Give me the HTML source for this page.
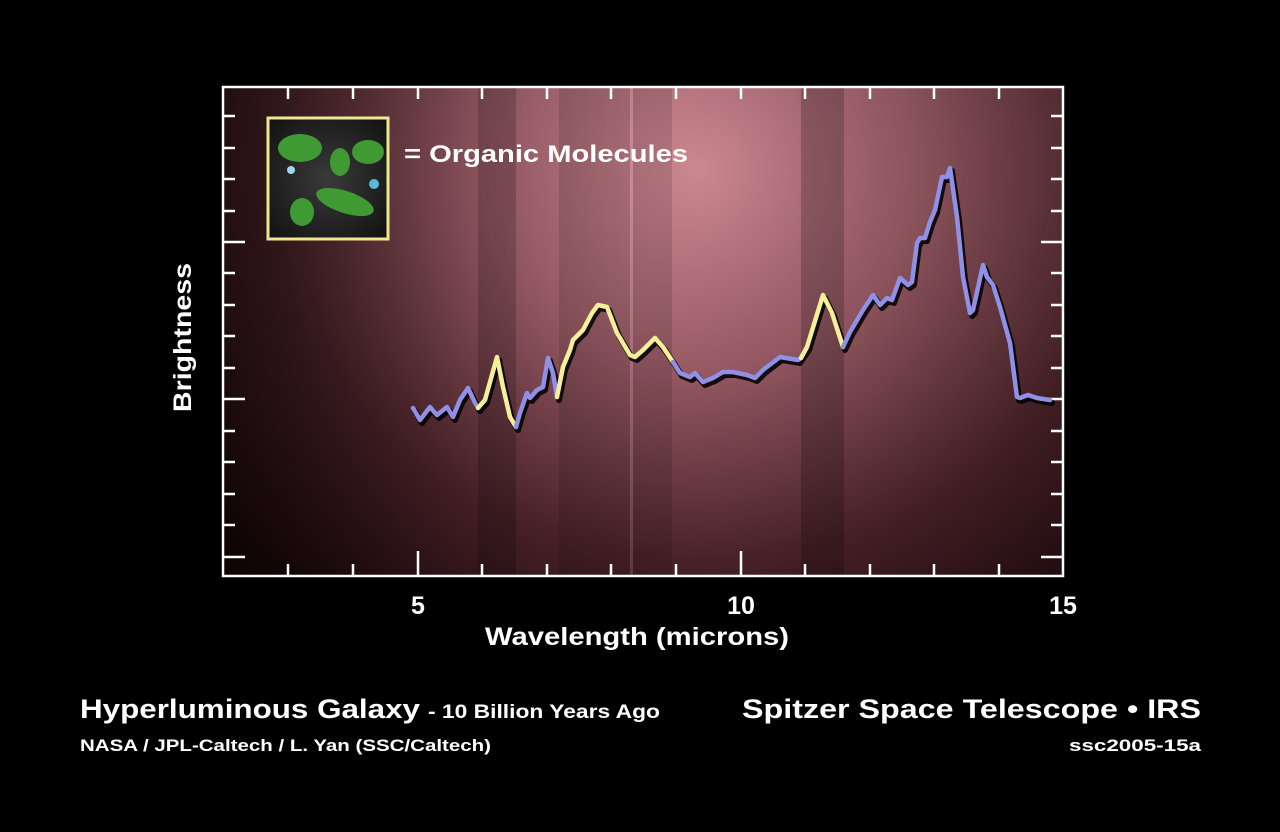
<!DOCTYPE html>
<html><head><meta charset="utf-8"><style>
html,body{margin:0;padding:0;background:#000;}
svg{display:block;}
text{font-family:"Liberation Sans",Arial,sans-serif;font-weight:bold;fill:#fff;}
</style></head><body>
<svg width="1280" height="832" viewBox="0 0 1280 832" xmlns="http://www.w3.org/2000/svg">
<defs>
<radialGradient id="bg" cx="700" cy="170" r="620" gradientUnits="userSpaceOnUse" gradientTransform="translate(700 170) scale(1 0.9) translate(-700 -170)">
<stop offset="0" stop-color="#d08a93"/>
<stop offset="0.35" stop-color="#9a5c66"/>
<stop offset="0.7" stop-color="#4a2228"/>
<stop offset="1" stop-color="#1c080b"/>
</radialGradient>
<linearGradient id="lf" x1="0" y1="0" x2="1" y2="0">
<stop offset="0" stop-color="#000" stop-opacity="0.45"/>
<stop offset="0.3" stop-color="#000" stop-opacity="0.1"/>
<stop offset="0.5" stop-color="#000" stop-opacity="0"/>
<stop offset="1" stop-color="#000" stop-opacity="0.15"/>
</linearGradient>
<radialGradient id="ins" cx="0.5" cy="0.5" r="0.7">
<stop offset="0" stop-color="#3a3a3a"/><stop offset="1" stop-color="#111"/>
</radialGradient>
</defs>
<rect x="0" y="0" width="1280" height="832" fill="#000"/>
<rect x="223" y="87" width="840" height="489" fill="url(#bg)"/>
<rect x="223" y="87" width="840" height="489" fill="url(#lf)"/>
<g>
<rect x="478" y="87" width="38" height="489" fill="#000" opacity="0.18"/>
<rect x="559" y="87" width="71" height="489" fill="#000" opacity="0.12"/>
<rect x="630" y="87" width="3" height="489" fill="#fff" opacity="0.12"/>
<rect x="633" y="87" width="39" height="489" fill="#000" opacity="0.12"/>
<rect x="801" y="87" width="43" height="489" fill="#000" opacity="0.2"/>
</g>
<rect x="223" y="87" width="840" height="489" fill="none" stroke="#fff" stroke-width="2.5"/>
<g stroke="#fff" stroke-width="2.5">
<line x1="288" y1="576" x2="288" y2="564"/><line x1="353" y1="576" x2="353" y2="564"/>
<line x1="418" y1="576" x2="418" y2="551"/><line x1="482" y1="576" x2="482" y2="564"/>
<line x1="547" y1="576" x2="547" y2="564"/><line x1="611" y1="576" x2="611" y2="564"/>
<line x1="676" y1="576" x2="676" y2="564"/><line x1="741" y1="576" x2="741" y2="551"/>
<line x1="805" y1="576" x2="805" y2="564"/><line x1="870" y1="576" x2="870" y2="564"/>
<line x1="934" y1="576" x2="934" y2="564"/><line x1="999" y1="576" x2="999" y2="564"/>
<line x1="288" y1="87" x2="288" y2="99"/><line x1="353" y1="87" x2="353" y2="99"/>
<line x1="418" y1="87" x2="418" y2="99"/><line x1="482" y1="87" x2="482" y2="99"/>
<line x1="547" y1="87" x2="547" y2="99"/><line x1="611" y1="87" x2="611" y2="99"/>
<line x1="676" y1="87" x2="676" y2="99"/><line x1="741" y1="87" x2="741" y2="99"/>
<line x1="805" y1="87" x2="805" y2="99"/><line x1="870" y1="87" x2="870" y2="99"/>
<line x1="934" y1="87" x2="934" y2="99"/><line x1="999" y1="87" x2="999" y2="99"/>
<line x1="223" y1="557" x2="245" y2="557"/><line x1="223" y1="525" x2="235" y2="525"/>
<line x1="223" y1="494" x2="235" y2="494"/><line x1="223" y1="462" x2="235" y2="462"/>
<line x1="223" y1="431" x2="235" y2="431"/><line x1="223" y1="399" x2="245" y2="399"/>
<line x1="223" y1="368" x2="235" y2="368"/><line x1="223" y1="336" x2="235" y2="336"/>
<line x1="223" y1="305" x2="235" y2="305"/><line x1="223" y1="273" x2="235" y2="273"/>
<line x1="223" y1="242" x2="245" y2="242"/><line x1="223" y1="211" x2="235" y2="211"/>
<line x1="223" y1="179" x2="235" y2="179"/><line x1="223" y1="148" x2="235" y2="148"/>
<line x1="223" y1="116" x2="235" y2="116"/>
<line x1="1063" y1="557" x2="1041" y2="557"/><line x1="1063" y1="525" x2="1051" y2="525"/>
<line x1="1063" y1="494" x2="1051" y2="494"/><line x1="1063" y1="462" x2="1051" y2="462"/>
<line x1="1063" y1="431" x2="1051" y2="431"/><line x1="1063" y1="399" x2="1041" y2="399"/>
<line x1="1063" y1="368" x2="1051" y2="368"/><line x1="1063" y1="336" x2="1051" y2="336"/>
<line x1="1063" y1="305" x2="1051" y2="305"/><line x1="1063" y1="273" x2="1051" y2="273"/>
<line x1="1063" y1="242" x2="1041" y2="242"/><line x1="1063" y1="211" x2="1051" y2="211"/>
<line x1="1063" y1="179" x2="1051" y2="179"/><line x1="1063" y1="148" x2="1051" y2="148"/>
<line x1="1063" y1="116" x2="1051" y2="116"/>
</g>
<g fill="none" stroke-linejoin="round" stroke-linecap="round">
<polyline transform="translate(2,3)" stroke="#000" stroke-width="6" opacity="0.85" points="413,408 420,420 430,407 437,415 447,407 453,417 460,400 468,388 475,403 478,408 485,400 497,357 503,387 510,417 516,427 520,413 527,393 530,398 537,390 543,387 548,358 553,373 557,397 563,367 570,350 573,340 583,330 592,313 598,305 607,307 617,333 630,355 635,357 643,350 655,338 663,347 673,362 680,373 690,377 695,373 703,382 713,378 723,372 733,372 747,375 755,378 763,370 780,357 798,360 807,347 823,295 832,313 843,347 850,332 863,310 873,295 880,305 887,298 892,300 900,278 908,285 912,282 917,243 920,238 925,238 930,222 935,210 942,177 947,177 950,168 957,217 963,277 970,313 973,310 983,265 987,277 993,285 1000,307 1010,343 1017,397 1020,398 1028,395 1037,398 1050,400"/>
<polyline stroke="#8f90e6" stroke-width="4.5" points="413,408 420,420 430,407 437,415 447,407 453,417 460,400 468,388 475,403 478,408"/>
<polyline stroke="#f4f097" stroke-width="4.5" points="478,408 485,400 497,357 503,387 510,417 516,427"/>
<polyline stroke="#8f90e6" stroke-width="4.5" points="516,427 520,413 527,393 530,398 537,390 543,387 548,358 553,373 557,397"/>
<polyline stroke="#f4f097" stroke-width="4.5" points="557,397 563,367 570,350 573,340 583,330 592,313 598,305 607,307 617,333 630,355 635,357 643,350 655,338 663,347 673,362"/>
<polyline stroke="#8f90e6" stroke-width="4.5" points="673,362 680,373 690,377 695,373 703,382 713,378 723,372 733,372 747,375 755,378 763,370 780,357 798,360 801,358"/>
<polyline stroke="#f4f097" stroke-width="4.5" points="801,358 807,347 823,295 832,313 843,347"/>
<polyline stroke="#8f90e6" stroke-width="4.5" points="843,347 850,332 863,310 873,295 880,305 887,298 892,300 900,278 908,285 912,282 917,243 920,238 925,238 930,222 935,210 942,177 947,177 950,168 957,217 963,277 970,313 973,310 983,265 987,277 993,285 1000,307 1010,343 1017,397 1020,398 1028,395 1037,398 1050,400"/>
</g>
<rect x="268" y="118" width="120" height="121" fill="url(#ins)" stroke="#f0e88e" stroke-width="3"/>
<g fill="#3f9a34">
<ellipse cx="300" cy="148" rx="22" ry="14"/>
<ellipse cx="368" cy="152" rx="16" ry="12"/>
<ellipse cx="340" cy="162" rx="10" ry="14"/>
<ellipse cx="345" cy="202" rx="30" ry="11" transform="rotate(18 345 202)"/>
<ellipse cx="302" cy="212" rx="12" ry="14"/>
</g>
<circle cx="291" cy="170" r="4" fill="#9fd8f0"/>
<circle cx="374" cy="184" r="5" fill="#5ab8d8"/>
<text x="404" y="162" font-size="24" textLength="284" lengthAdjust="spacingAndGlyphs">= Organic Molecules</text>
<text x="418" y="614" font-size="25" text-anchor="middle">5</text>
<text x="741" y="614" font-size="25" text-anchor="middle">10</text>
<text x="1063" y="614" font-size="25" text-anchor="middle">15</text>
<text x="485" y="645" font-size="25" textLength="304" lengthAdjust="spacingAndGlyphs">Wavelength (microns)</text>
<text transform="translate(191,412) rotate(-90)" font-size="25" textLength="149" lengthAdjust="spacingAndGlyphs">Brightness</text>
<text x="80" y="718" font-size="27" textLength="340" lengthAdjust="spacingAndGlyphs">Hyperluminous Galaxy</text>
<text x="428" y="718" font-size="19" textLength="232" lengthAdjust="spacingAndGlyphs">- 10 Billion Years Ago</text>
<text x="80" y="751" font-size="17" textLength="411" lengthAdjust="spacingAndGlyphs">NASA / JPL-Caltech / L. Yan (SSC/Caltech)</text>
<text x="742" y="718" font-size="27" textLength="459" lengthAdjust="spacingAndGlyphs">Spitzer Space Telescope • IRS</text>
<text x="1069" y="751" font-size="17" textLength="132" lengthAdjust="spacingAndGlyphs">ssc2005-15a</text>
</svg>
</body></html>
